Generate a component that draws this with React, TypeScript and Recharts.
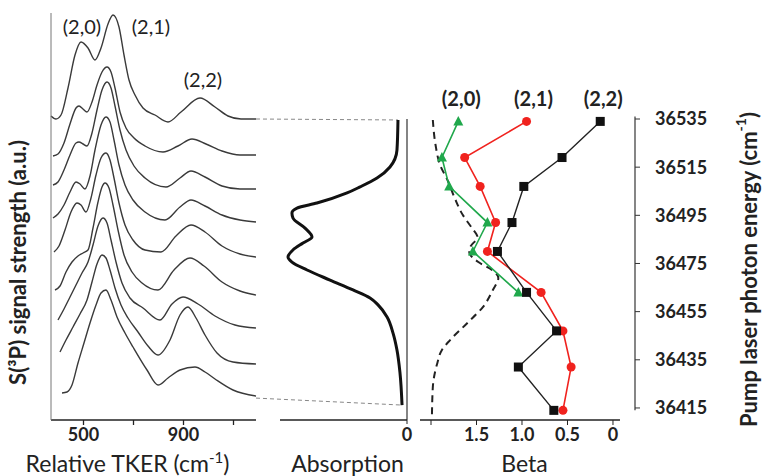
import React from 'react';
import {
  LineChart,
  Line,
  XAxis,
  YAxis,
  ReferenceLine,
  ReferenceDot,
  Label,
  LabelList,
} from 'recharts';

const FONT = 'Lato, "Open Sans", sans-serif';
const INK = '#222';

// left panel: S(3P) spectra, stacked top (36535) to bottom (36414)
// pairs are [relative TKER cm-1, signal a.u. incl. stacking offset]
const TKER_TICKS = [500, 700, 900, 1100];
const TKER_LABELS = ['500', '', '900', ''];

const SPEC_1 = [[370,304],[390,301],[410,305],[438,332],[466,365],[490,378],[518,372],[546,360],[570,372],[598,396],[618,405],[642,393],[662,365],[682,340],[706,325],[738,312],[786,305],[838,298],[890,308],[966,322],[1026,313],[1078,304],[1130,301],[1190,301]];
const SPEC_2 = [[378,264],[398,266],[422,277],[446,296],[470,312],[482,314],[498,311],[514,308],[534,318],[554,335],[574,348],[594,353],[610,348],[626,332],[646,308],[670,292],[702,282],[746,274],[818,268],[878,274],[934,281],[990,276],[1054,269],[1126,265],[1190,265]];
const SPEC_3 = [[378,235],[398,238],[422,250],[446,265],[470,277],[482,278],[498,276],[514,274],[534,287],[554,310],[574,330],[594,338],[610,332],[626,314],[646,290],[670,270],[702,254],[746,242],[830,233],[886,242],[930,249],[986,243],[1054,234],[1126,231],[1190,231]];
const SPEC_4 = [[378,202],[398,206],[422,215],[446,228],[470,238],[486,236],[506,231],[526,244],[546,270],[570,295],[590,303],[606,298],[622,280],[642,255],[666,235],[698,220],[746,208],[826,200],[886,213],[930,220],[986,214],[1054,205],[1126,200],[1190,198]];
const SPEC_5 = [[382,168],[402,174],[426,190],[450,208],[474,217],[490,215],[510,208],[530,222],[550,245],[570,262],[590,267],[606,260],[622,242],[642,217],[666,195],[698,180],[746,170],[810,168],[870,184],[930,195],[986,188],[1054,174],[1126,166],[1190,163]];
const SPEC_6 = [[386,130],[406,134],[430,148],[454,158],[478,164],[498,167],[518,170],[538,192],[558,218],[574,233],[586,237],[602,232],[618,215],[638,190],[662,165],[694,148],[734,137],[798,130],[862,150],[926,162],[982,154],[1054,138],[1126,129],[1190,125]];
const SPEC_7 = [[398,100],[422,111],[446,123],[470,135],[494,147],[518,158],[538,175],[558,194],[578,202],[594,197],[610,180],[630,158],[654,137],[686,122],[738,112],[806,100],[854,116],[898,123],[958,116],[1026,104],[1106,95],[1190,92]];
const SPEC_8 = [[406,68],[430,80],[458,93],[486,106],[514,120],[534,138],[554,156],[574,165],[590,162],[606,150],[626,132],[650,115],[678,102],[718,88],[758,74],[798,65],[846,80],[886,105],[918,113],[950,102],[986,85],[1034,67],[1098,58],[1190,56]];
const SPEC_9 = [[414,27],[434,28],[454,35],[478,57],[502,77],[526,97],[550,115],[570,127],[590,130],[610,120],[634,103],[666,87],[698,73],[754,50],[798,35],[838,42],[886,50],[946,53],[986,48],[1026,41],[1098,30],[1190,24]];
const SPECTRA = [SPEC_1, SPEC_2, SPEC_3, SPEC_4, SPEC_5, SPEC_6, SPEC_7, SPEC_8, SPEC_9];

// peak names, placed near the top spectrum
const PEAK_NAMES = ['(2,0)', '(2,1)', '(2,2)'];
const PEAK_TKER = [494, 770, 978];
const PEAK_SIGNAL = [393, 393, 340];

// middle panel: absorption spectrum, [pump energy cm-1, absorption]
const ABSORPTION = [[36534.6,0.071],[36522.1,0.079],[36515.1,0.134],[36510.5,0.236],[36506.8,0.37],[36504.3,0.472],[36500.1,0.709],[36498.0,0.866],[36496.0,0.906],[36493.9,0.898],[36489.7,0.803],[36486.0,0.748],[36483.5,0.819],[36480.6,0.898],[36477.7,0.937],[36475.6,0.906],[36472.3,0.787],[36468.1,0.606],[36464.0,0.425],[36460.7,0.291],[36457.8,0.228],[36452.8,0.157],[36446.1,0.11],[36439.1,0.079],[36429.5,0.055],[36416.2,0.039]];

// right panel: beta parameters
const ENERGY_TICKS = [36415, 36435, 36455, 36475, 36495, 36515, 36535];
const BETA_TICKS = [2, 1.5, 1, 0.5, 0];
const BETA_LABELS = ['', '1.5', '1.0', '0.5', '0'];
const BETA_ENERGY = [36534, 36519, 36507, 36492, 36480, 36463, 36447, 36432, 36414];
const BETA_22 = [0.14, 0.56, 0.98, 1.11, 1.27, 0.95, 0.62, 1.04, 0.65];
const BETA_21 = [0.95, 1.63, 1.46, 1.29, 1.38, 0.79, 0.55, 0.46, 0.55];
const BETA_20 = [1.70, 1.88, 1.80, 1.38, 1.54, 1.04];
// absorption overlay drawn dashed on the beta scale, [energy, beta units]
const ABS_OVERLAY = [[36534.6,1.98],[36524.2,1.95],[36515.9,1.90],[36509.7,1.82],[36502.2,1.74],[36495.1,1.65],[36489.7,1.55],[36486.0,1.49],[36481.8,1.57],[36479.8,1.58],[36475.6,1.48],[36472.3,1.33],[36469.0,1.26],[36464.0,1.32],[36456.9,1.43],[36450.3,1.60],[36443.2,1.79],[36439.1,1.88],[36433.7,1.93],[36423.7,1.98],[36411.2,1.99]];

const E_MIN = 36410;
const E_MAX = 36535;

const tkerPts = (arr: number[][]) => arr.map(([t, s]) => ({ t, s }));
const absPts = ABSORPTION.map(([e, a]) => ({ e, a }));
const overlayPts = ABS_OVERLAY.map(([e, b]) => ({ e, b }));
const betaTable = BETA_ENERGY.map((e, i) => ({
  e,
  b22: BETA_22[i],
  b21: BETA_21[i],
  b20: i < BETA_20.length ? BETA_20[i] : null,
}));

const tickBold = { fill: INK, fontSize: 18, fontWeight: 700, fontFamily: FONT };

const Square = (p: any) => {
  if (p.cx == null || p.cy == null) return null;
  return <rect key={p.key} x={p.cx - 4.5} y={p.cy - 4.5} width={9} height={9} fill="#111" />;
};
const Dot = (p: any) => {
  if (p.cx == null || p.cy == null) return null;
  return <circle key={p.key} cx={p.cx} cy={p.cy} r={4.5} fill="#f0221e" />;
};
const Tri = (p: any) => {
  if (p.cx == null || p.cy == null) return null;
  return (
    <polygon
      key={p.key}
      points={`${p.cx},${p.cy - 5.5} ${p.cx - 5},${p.cy + 4} ${p.cx + 5},${p.cy + 4}`}
      fill="#20a84c"
    />
  );
};

const seriesName = (name: string, dx: number) => (p: any) =>
  p.index === 0 ? (
    <text x={p.x + dx} y={p.y - 15} textAnchor="middle" fill={INK} fontSize={20} fontWeight={700} fontFamily={FONT}>
      {name}
    </text>
  ) : null;

// horizontal axis title with (cm-1) style superscript when asked
const AxisTitle = ({ viewBox, text, dx, sup }: any) => (
  <text
    x={viewBox.x + viewBox.width / 2 + dx}
    y={viewBox.y + 52}
    textAnchor="middle"
    fill={INK}
    fontSize={23}
    fontFamily={FONT}
  >
    {text}
    {sup && (
      <>
        <tspan dy={-9} fontSize={15}>-1</tspan>
        <tspan dy={9}>)</tspan>
      </>
    )}
  </text>
);

const SideTitle = ({ viewBox, text, dx, dy, sup }: any) => {
  const cx = viewBox.x + dx;
  const cy = viewBox.y + viewBox.height / 2 + dy;
  return (
    <text
      transform={`rotate(-90 ${cx} ${cy})`}
      x={cx}
      y={cy}
      textAnchor="middle"
      dominantBaseline="central"
      fill={INK}
      fontSize={22}
      fontWeight={700}
      fontFamily={FONT}
    >
      {text}
      {sup && (
        <>
          <tspan dy={-8} fontSize={14}>-1</tspan>
          <tspan dy={8}>)</tspan>
        </>
      )}
    </text>
  );
};

export default function App() {
  return (
    <div style={{ position: 'absolute', left: 0, top: 0, width: 764, height: 476, background: '#fff', fontFamily: FONT }}>
      {/* spectra */}
      <div style={{ position: 'absolute', left: 0, top: 0 }}>
        <LineChart width={270} height={476} margin={{ top: 13, right: 14, bottom: 0, left: 50 }}>
          <XAxis
            type="number"
            dataKey="t"
            domain={[370, 1190]}
            ticks={TKER_TICKS}
            tickFormatter={(v: number) => TKER_LABELS[TKER_TICKS.indexOf(v)]}
            height={56}
            tick={tickBold}
            tickSize={5}
            tickMargin={3}
            stroke="#222"
            strokeWidth={1.3}
          >
            <Label content={(p: any) => <AxisTitle {...p} text="Relative TKER (cm" dx={-26} sup />} />
          </XAxis>
          <YAxis type="number" domain={[0, 407]} width={1} tick={false} tickLine={false} stroke="#777">
            <Label content={(p: any) => <SideTitle {...p} text="S(³P) signal strength (a.u.)" dx={-33} dy={46} />} />
          </YAxis>
          {SPECTRA.map((sp, i) => (
            <Line
              key={i}
              data={tkerPts(sp)}
              dataKey="s"
              type="monotone"
              stroke="#3a3a3a"
              strokeWidth={1.4}
              dot={false}
              isAnimationActive={false}
            />
          ))}
          {PEAK_NAMES.map((n, i) => (
            <ReferenceDot
              key={n}
              x={PEAK_TKER[i]}
              y={PEAK_SIGNAL[i]}
              r={1}
              fill="none"
              stroke="none"
              label={{ value: n, position: 'center', fill: INK, fontSize: 20, fontFamily: FONT }}
            />
          ))}
        </LineChart>
      </div>

      {/* absorption */}
      <div style={{ position: 'absolute', left: 256, top: 0 }}>
        <LineChart layout="vertical" width={164} height={476} margin={{ top: 119, right: 13, bottom: 0, left: 0 }}>
          <XAxis
            type="number"
            domain={[0, 1.189]}
            reversed
            ticks={[0]}
            height={56}
            axisLine={false}
            tick={tickBold}
            tickSize={4}
            tickMargin={4}
            stroke="#222"
          >
            <Label content={(p: any) => <AxisTitle {...p} text="Absorption" dx={16} />} />
          </XAxis>
          <YAxis type="number" dataKey="e" domain={[E_MIN, E_MAX]} reversed hide />
          <ReferenceLine x={0} stroke="#333" strokeWidth={1.2} ifOverflow="visible" />
          <ReferenceLine
            segment={[{ x: 1, y: E_MIN }, { x: 0, y: E_MIN }]}
            stroke="#222"
            strokeWidth={1.3}
            ifOverflow="visible"
          />
          <ReferenceLine
            segment={[{ x: 1.189, y: E_MAX }, { x: ABSORPTION[0][1], y: ABSORPTION[0][0] }]}
            stroke="#888"
            strokeDasharray="4 3"
            ifOverflow="visible"
          />
          <ReferenceLine
            segment={[{ x: 1.189, y: 36419.1 }, { x: ABSORPTION[ABSORPTION.length - 1][1], y: ABSORPTION[ABSORPTION.length - 1][0] }]}
            stroke="#888"
            strokeDasharray="4 3"
            ifOverflow="visible"
          />
          <Line
            data={absPts}
            dataKey="a"
            type="monotone"
            stroke="#111"
            strokeWidth={3}
            dot={false}
            isAnimationActive={false}
          />
        </LineChart>
      </div>

      {/* beta */}
      <div style={{ position: 'absolute', left: 420, top: 0 }}>
        <LineChart layout="vertical" data={betaTable} width={344} height={476} margin={{ top: 119, right: 0, bottom: 0, left: 0 }}>
          <XAxis
            type="number"
            domain={[-0.242, 2.121]}
            reversed
            ticks={BETA_TICKS}
            tickFormatter={(v: number) => BETA_LABELS[BETA_TICKS.indexOf(v)]}
            height={56}
            axisLine={false}
            tick={tickBold}
            tickSize={5}
            tickMargin={3}
            stroke="#222"
          >
            <Label content={(p: any) => <AxisTitle {...p} text="Beta" dx={-3} />} />
          </XAxis>
          <YAxis
            type="number"
            dataKey="e"
            orientation="right"
            domain={[E_MIN, E_MAX]}
            reversed
            ticks={ENERGY_TICKS}
            width={129}
            axisLine={false}
            tickSize={5}
            tickMargin={15}
            stroke="#333"
            tick={{ ...tickBold, textAnchor: 'start' }}
          >
            <Label content={(p: any) => <SideTitle {...p} text="Pump laser photon  energy (cm" dx={113} dy={0} sup />} />
          </YAxis>
          <ReferenceLine
            segment={[{ x: 2.121, y: E_MIN }, { x: -0.077, y: E_MIN }]}
            stroke="#222"
            strokeWidth={1.3}
            ifOverflow="visible"
          />
          <ReferenceLine
            segment={[{ x: -0.242, y: 36414 }, { x: -0.242, y: 36536 }]}
            stroke="#444"
            strokeWidth={1.3}
            ifOverflow="visible"
          />
          <Line
            data={overlayPts}
            dataKey="b"
            type="monotone"
            stroke="#222"
            strokeWidth={2}
            strokeDasharray="7 5"
            dot={false}
            isAnimationActive={false}
          />
          <Line dataKey="b20" type="linear" stroke="#20a84c" strokeWidth={1.6} dot={Tri} isAnimationActive={false}>
            <LabelList dataKey="b20" content={seriesName('(2,0)', 3)} />
          </Line>
          <Line dataKey="b21" type="linear" stroke="#f0221e" strokeWidth={1.6} dot={Dot} isAnimationActive={false}>
            <LabelList dataKey="b21" content={seriesName('(2,1)', 7)} />
          </Line>
          <Line dataKey="b22" type="linear" stroke="#222" strokeWidth={1.4} dot={Square} isAnimationActive={false}>
            <LabelList dataKey="b22" content={seriesName('(2,2)', 3)} />
          </Line>
        </LineChart>
      </div>
    </div>
  );
}
